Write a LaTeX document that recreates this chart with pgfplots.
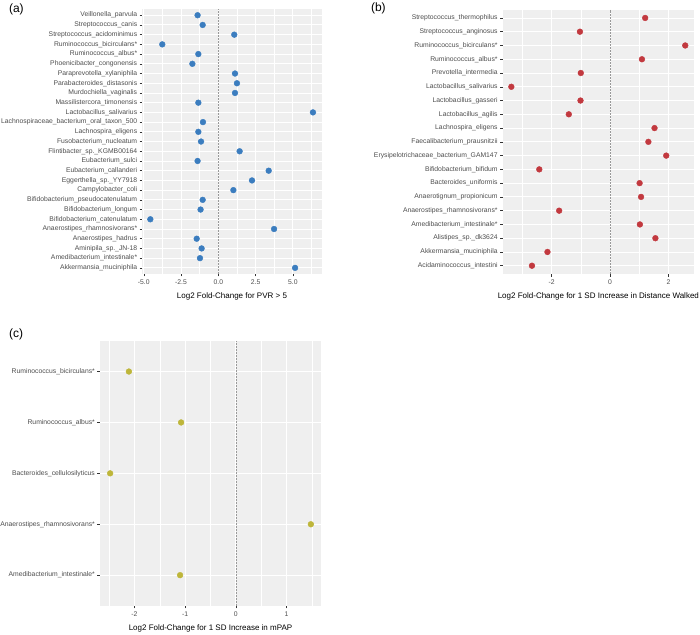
\documentclass[border=0pt]{standalone}
\usepackage{fontspec}
\setmainfont{Liberation Sans}
\usepackage{pgfplots}
\pgfplotsset{compat=1.18}
\definecolor{bggrey}{HTML}{EFEFEF}
\definecolor{labgrey}{HTML}{4D4D4D}
\definecolor{tickgrey}{HTML}{333333}
\definecolor{ptblue}{HTML}{3B7DBF}
\definecolor{ptred}{HTML}{C2393F}
\definecolor{ptolive}{HTML}{BEB63A}
\pgfplotsset{
  ggstyle/.style={
    scale only axis,
    anchor=north west,
    axis background/.style={fill=bggrey},
    axis line style={draw=none},
    xmajorgrids, ymajorgrids, xminorgrids,
    major grid style={white, line width=0.9pt},
    minor grid style={white, line width=0.45pt},
    tick style={color=tickgrey, line width=0.5pt},
    major tick length=2.6pt,
    minor tick length=0pt,
    tick align=outside,
    xtick pos=bottom, ytick pos=left,
    tick label style={font=\fontsize{6.8}{8}\selectfont, text=labgrey},
    yticklabel style={xshift=1pt},
    label style={font=\fontsize{8}{9.6}\selectfont, text=black},
    xlabel style={at={(axis description cs:0.5,0)}, anchor=center, yshift=-22.3pt},
    ytick={1,2,...,30},
  }
}
\begin{document}
\begin{tikzpicture}
\useasboundingbox (0,0) rectangle (700pt,634pt);
% ---------------- (a)
\begin{axis}[ggstyle,
  at={(142.3pt,624.6pt)}, width=179.3pt, height=264.3pt,
  xmin=-5.1, xmax=6.93, ymin=0.4, ymax=27.6,
  xtick={-5,-2.5,0,2.5,5}, xticklabels={-5.0,-2.5,0.0,2.5,5.0},
  minor xtick={-3.75,-1.25,1.25,3.75,6.25},
  yticklabels={Akkermansia\_muciniphila,Amedibacterium\_intestinale*,Aminipila\_sp.\_JN-18,Anaerostipes\_hadrus,Anaerostipes\_rhamnosivorans*,Bifidobacterium\_catenulatum,Bifidobacterium\_longum,Bifidobacterium\_pseudocatenulatum,Campylobacter\_coli,Eggerthella\_sp.\_YY7918,Eubacterium\_callanderi,Eubacterium\_sulci,Flintibacter\_sp.\_KGMB00164,Fusobacterium\_nucleatum,Lachnospira\_eligens,Lachnospiraceae\_bacterium\_oral\_taxon\_500,Lactobacillus\_salivarius,Massilistercora\_timonensis,Murdochiella\_vaginalis,Parabacteroides\_distasonis,Paraprevotella\_xylaniphila,Phoenicibacter\_congonensis,Ruminococcus\_albus*,Ruminococcus\_bicirculans*,Streptococcus\_acidominimus,Streptococcus\_canis,Veillonella\_parvula},
  xlabel={Log2 Fold-Change for PVR > 5},
]
\addplot[densely dotted, color=gray!80, line width=0.5pt, forget plot] coordinates {(0,0.4) (0,27.6)};
\addplot[only marks, mark=*, mark size=2.9pt, color=ptblue, fill=ptblue] table {
x y
5.15 1
-1.23 2
-1.12 3
-1.45 4
3.74 5
-4.56 6
-1.19 7
-1.05 8
1.01 9
2.26 10
3.38 11
-1.39 12
1.43 13
-1.16 14
-1.34 15
-1.03 16
6.35 17
-1.34 18
1.12 19
1.25 20
1.12 21
-1.74 22
-1.34 23
-3.76 24
1.07 25
-1.05 26
-1.39 27
};
\end{axis}
% ---------------- (b)
\begin{axis}[ggstyle,
  at={(502.7pt,624.3pt)}, width=191.3pt, height=264.3pt,
  xmin=-3.67, xmax=2.87, ymin=0.4, ymax=19.6,
  xtick={-2,0,2}, xticklabels={-2,0,2},
  minor xtick={-3,-1,1},
  yticklabels={Acidaminococcus\_intestini,Akkermansia\_muciniphila,Alistipes\_sp.\_dk3624,Amedibacterium\_intestinale*,Anaerostipes\_rhamnosivorans*,Anaerotignum\_propionicum,Bacteroides\_uniformis,Bifidobacterium\_bifidum,Erysipelotrichaceae\_bacterium\_GAM147,Faecalibacterium\_prausnitzii,Lachnospira\_eligens,Lactobacillus\_agilis,Lactobacillus\_gasseri,Lactobacillus\_salivarius,Prevotella\_intermedia,Ruminococcus\_albus*,Ruminococcus\_bicirculans*,Streptococcus\_anginosus,Streptococcus\_thermophilus},
  xlabel={Log2 Fold-Change for 1 SD Increase in Distance Walked},
]
\addplot[densely dotted, color=gray!80, line width=0.5pt, forget plot] coordinates {(0,0.4) (0,19.6)};
\addplot[only marks, mark=*, mark size=2.9pt, color=ptred, fill=ptred] table {
x y
-2.67 1
-2.14 2
1.55 3
1.02 4
-1.74 5
1.06 6
1.01 7
-2.42 8
1.92 9
1.31 10
1.52 11
-1.41 12
-1.01 13
-3.375 14
-1.00 15
1.09 16
2.57 17
-1.03 18
1.20 19
};
\end{axis}
% ---------------- (c)
\begin{axis}[ggstyle,
  at={(100pt,293pt)}, width=221pt, height=264.7pt,
  xmin=-2.68, xmax=1.68, ymin=0.4, ymax=5.6,
  xtick={-2,-1,0,1}, xticklabels={-2,-1,0,1},
  minor xtick={-2.5,-1.5,-0.5,0.5,1.5},
  yticklabels={Amedibacterium\_intestinale*,Anaerostipes\_rhamnosivorans*,Bacteroides\_cellulosilyticus,Ruminococcus\_albus*,Ruminococcus\_bicirculans*},
  xlabel={Log2 Fold-Change for 1 SD Increase in mPAP},
]
\addplot[densely dotted, color=gray!80, line width=0.5pt, forget plot] coordinates {(0,0.4) (0,5.6)};
\addplot[only marks, mark=*, mark size=2.9pt, color=ptolive, fill=ptolive] table {
x y
-1.10 1
1.48 2
-2.48 3
-1.08 4
-2.11 5
};
\end{axis}
\node[anchor=west, font=\fontsize{12}{14}\selectfont] at (5.5pt,625pt) {(a)};
\node[anchor=west, font=\fontsize{12}{14}\selectfont] at (367.5pt,625.5pt) {(b)};
\node[anchor=west, font=\fontsize{12}{14}\selectfont] at (5.5pt,299.5pt) {(c)};
\end{tikzpicture}
\end{document}
